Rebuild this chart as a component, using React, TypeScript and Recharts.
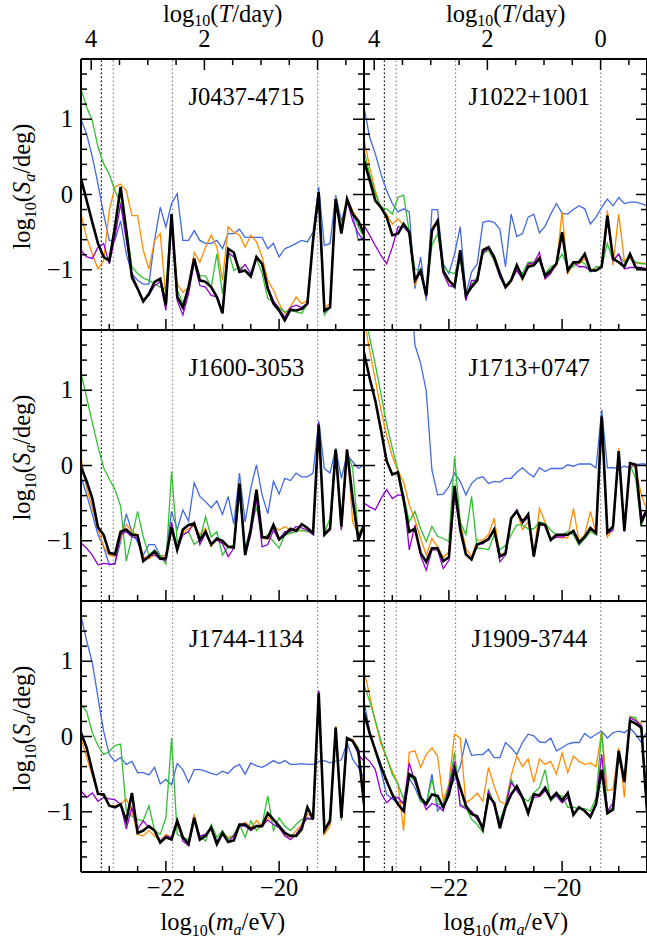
import React from "react";
import { LineChart, Line, XAxis, YAxis, ReferenceLine } from "recharts";

const FONT = "'Liberation Serif', 'Times New Roman', serif";

// log10(m_a / eV) at which every curve is sampled
const logMass = [
  -23.5, -23.4, -23.3, -23.2, -23.1, -23.0, -22.9, -22.8, -22.7, -22.6,
  -22.5, -22.4, -22.3, -22.2, -22.1, -22.0, -21.9, -21.8, -21.7, -21.6,
  -21.5, -21.4, -21.3, -21.2, -21.1, -21.0, -20.9, -20.8, -20.7, -20.6,
  -20.5, -20.4, -20.3, -20.2, -20.1, -20.0, -19.9, -19.8, -19.7, -19.6,
  -19.5, -19.4, -19.3, -19.2, -19.1, -19.0, -18.9, -18.8, -18.7, -18.6, -18.5,
];

// log10(S_a / deg), one array per pulsar and per curve
const j0437Black = [0.21, -0.08, -0.37, -0.65, -0.83, -0.88, -0.43, 0.10, -0.48, -1.10, -1.25, -1.42, -1.32, -1.16, -1.12, -1.47, -0.26, -1.36, -1.50, -1.23, -0.85, -1.14, -1.16, -1.23, -1.36, -1.58, -0.72, -0.77, -1.03, -1.01, -1.09, -0.83, -0.92, -1.25, -1.45, -1.54, -1.67, -1.53, -1.54, -1.52, -1.45, -0.61, 0.03, -1.54, -1.50, -0.06, -0.52, -0.06, -0.26, -0.35, -0.52];
const j0437Blue = [1.00, 0.80, 0.50, 0.14, -0.26, -0.61, -0.61, -0.35, -0.79, -1.05, -1.14, -1.19, -1.19, -0.61, -0.17, -0.43, -0.12, 0.01, -0.61, -0.61, -0.48, -0.61, -0.65, -0.65, -0.61, -0.72, -0.52, -0.52, -0.46, -0.57, -0.57, -0.57, -0.57, -0.72, -0.65, -0.83, -0.72, -0.69, -0.65, -0.61, -0.63, -0.50, 0.10, -0.68, -0.65, -0.01, -0.35, -0.08, -0.26, -0.61, -0.57];
const j0437Orange = [-0.26, -0.57, -0.79, -0.99, -0.88, -0.21, 0.10, 0.14, 0.05, -0.28, -0.28, -0.74, -0.99, -0.61, -0.52, -1.36, -0.40, -1.19, -1.30, -1.23, -0.77, -0.90, -0.70, -0.54, -0.70, -1.14, -0.43, -0.50, -0.54, -0.70, -0.54, -0.63, -0.83, -1.14, -1.27, -1.45, -1.58, -1.50, -1.36, -1.45, -1.41, -0.61, 0.00, -1.50, -1.45, -0.04, -0.43, -0.06, -0.21, -0.35, -0.57];
const j0437Green = [1.40, 1.16, 0.98, 0.63, 0.41, 0.27, 0.05, -0.12, -0.43, -0.96, -1.05, -1.11, -1.14, -1.19, -1.23, -1.25, -0.26, -1.27, -1.45, -1.23, -0.88, -1.08, -1.08, -1.23, -0.79, -1.32, -0.74, -1.01, -0.96, -1.03, -1.05, -0.85, -1.05, -1.38, -1.43, -1.50, -1.56, -1.54, -1.56, -1.58, -1.45, -0.57, -0.01, -1.60, -1.50, -0.04, -0.43, -0.08, -0.23, -0.43, -0.57];
const j0437Purple = [-0.74, -0.83, -0.85, -0.70, -0.65, -0.92, -0.57, -0.12, -0.61, -1.05, -1.25, -1.41, -1.34, -1.21, -1.16, -1.54, -0.35, -1.41, -1.60, -1.32, -0.90, -1.21, -1.23, -1.34, -1.36, -1.54, -0.77, -0.83, -1.01, -0.93, -1.05, -0.83, -0.93, -1.23, -1.41, -1.52, -1.63, -1.50, -1.47, -1.50, -1.45, -0.61, -0.01, -1.56, -1.50, -0.06, -0.48, -0.08, -0.35, -0.52, -0.61];

const j1022Black = [0.45, 0.19, -0.08, -0.17, -0.30, -0.54, -0.52, -0.39, -0.50, -1.14, -1.01, -1.34, -0.48, -0.35, -1.01, -1.14, -1.22, -0.74, -1.34, -1.23, -1.14, -0.74, -0.70, -0.83, -1.05, -1.23, -1.14, -0.94, -1.11, -0.96, -0.94, -0.85, -1.08, -1.01, -0.92, -0.50, -1.01, -0.90, -0.90, -0.79, -1.01, -1.01, -0.96, -0.28, -0.85, -0.90, -0.96, -0.79, -0.97, -0.99, -1.00];
const j1022Blue = [1.16, 0.76, 0.54, 0.27, 0.05, -0.12, -0.23, -0.19, -0.23, -1.25, -0.83, -1.41, -0.20, -0.20, -0.92, -1.05, -0.79, -0.43, -1.32, -1.03, -0.92, -0.37, -0.35, -0.37, -0.46, -0.96, -0.26, -0.56, -0.52, -0.30, -0.26, -0.51, -0.42, -0.26, -0.12, -0.25, -0.26, -0.20, -0.15, -0.19, -0.39, -0.30, -0.17, -0.06, -0.15, -0.04, -0.12, -0.10, -0.10, -0.12, -0.15];
const j1022Orange = [0.74, 0.36, 0.05, -0.19, -0.26, -0.39, -0.32, -0.41, -0.52, -1.21, -1.01, -1.35, -0.43, -0.37, -1.05, -1.16, -1.23, -0.79, -1.35, -1.21, -1.16, -0.79, -0.72, -0.88, -1.08, -1.25, -1.16, -0.96, -1.14, -0.94, -0.92, -0.83, -1.12, -1.03, -0.94, -0.23, -1.05, -0.92, -0.92, -0.85, -0.99, -1.00, -0.94, -0.21, -0.94, -0.26, -0.88, -0.85, -0.91, -0.91, -0.92];
const j1022Green = [0.58, 0.27, 0.01, -0.17, -0.19, -0.26, -0.04, -0.01, -0.50, -0.99, -1.01, -1.32, -0.68, -0.52, -0.96, -1.03, -1.05, -0.88, -1.32, -1.19, -1.10, -0.79, -0.74, -0.88, -1.08, -1.21, -1.12, -0.96, -1.05, -0.90, -0.90, -0.85, -1.05, -0.96, -0.92, -0.79, -0.96, -0.96, -0.88, -0.92, -1.03, -0.96, -0.96, -0.65, -0.88, -0.79, -0.90, -0.83, -0.90, -0.92, -0.92];
const j1022Purple = [-0.41, -0.54, -0.68, -0.81, -0.92, -0.70, -0.43, -0.43, -0.52, -1.16, -1.03, -1.36, -0.50, -0.35, -1.05, -1.21, -1.23, -0.79, -1.41, -1.14, -1.14, -0.77, -0.72, -0.85, -1.10, -1.23, -1.15, -1.01, -1.12, -0.92, -0.91, -0.77, -1.12, -1.05, -0.91, -0.52, -1.01, -0.90, -0.96, -0.96, -1.01, -1.01, -0.96, -0.28, -0.88, -0.79, -0.99, -0.97, -0.97, -0.97, -0.99];

const j1600Black = [-0.02, -0.21, -0.44, -0.82, -0.92, -1.16, -1.18, -0.88, -0.85, -0.92, -0.93, -1.27, -1.21, -1.14, -1.24, -1.23, -0.82, -1.12, -0.85, -0.79, -0.77, -0.99, -0.88, -1.05, -0.97, -1.00, -1.08, -1.09, -0.24, -1.19, -0.84, -0.32, -0.95, -0.96, -0.79, -0.98, -0.92, -0.84, -0.87, -0.78, -0.83, -0.90, 0.54, -0.92, -0.84, 0.21, -0.81, 0.21, -0.44, -0.99, -0.79];
const j1600Blue = [-0.15, -0.39, -0.65, -0.92, -1.08, -1.32, -1.30, -1.01, -0.64, -0.88, -1.02, -1.19, -1.05, -1.05, -1.20, -1.19, -0.61, -0.85, -0.59, -0.74, -0.23, -0.41, -0.48, -0.56, -0.47, -0.65, -0.41, -0.78, -0.10, -0.75, -0.30, 0.01, -0.39, -0.64, -0.21, -0.38, -0.17, -0.20, -0.10, -0.15, -0.15, -0.10, 0.59, -0.04, -0.10, 0.23, -0.17, 0.14, 0.05, -0.04, 0.01];
const j1600Orange = [0.10, -0.30, -0.57, -0.84, -1.08, -1.19, -1.21, -0.97, -0.78, -0.88, -0.92, -1.21, -1.24, -1.19, -1.21, -1.19, -0.80, -1.10, -0.89, -0.84, -0.80, -0.92, -0.83, -1.08, -0.97, -1.04, -1.07, -1.07, -0.21, -1.17, -0.86, -0.32, -0.97, -0.98, -0.80, -0.86, -0.81, -0.86, -0.84, -0.87, -0.84, -0.90, 0.54, -0.92, -0.83, 0.21, -0.84, 0.22, -0.75, -0.92, -0.77];
const j1600Green = [1.23, 0.90, 0.57, 0.25, -0.03, -0.18, -0.32, -0.54, -1.27, -0.95, -0.61, -0.95, -1.19, -1.12, -1.20, -1.31, -0.08, -1.02, -0.92, -0.88, -1.05, -0.99, -0.68, -0.95, -0.88, -1.19, -1.08, -1.06, -0.39, -1.10, -0.84, -0.55, -0.97, -0.92, -1.01, -1.10, -0.92, -0.90, -0.88, -0.86, -0.88, -0.88, 0.54, -0.90, -0.70, 0.23, -0.75, 0.19, -0.04, -0.92, -0.79];
const j1600Purple = [-1.03, -1.10, -1.19, -1.32, -1.30, -1.31, -1.31, -0.92, -0.88, -0.95, -0.97, -1.26, -1.19, -1.19, -1.24, -1.26, -0.75, -1.12, -0.92, -0.88, -0.75, -1.05, -0.90, -1.05, -0.99, -1.04, -1.21, -1.10, -0.30, -1.19, -0.92, -0.44, -1.08, -1.05, -0.86, -0.99, -0.88, -0.88, -0.81, -0.83, -0.86, -0.92, 0.56, -0.92, -0.86, 0.19, -0.86, 0.19, -0.50, -0.95, -0.80];

const j1713Black = [1.50, 1.16, 0.86, 0.47, 0.06, -0.12, -0.09, -0.46, -0.88, -0.84, -1.16, -1.28, -1.10, -1.10, -1.27, -1.22, -0.27, -0.85, -1.18, -1.25, -1.05, -1.02, -0.98, -0.85, -1.21, -1.17, -0.70, -0.61, -0.75, -0.65, -1.21, -0.77, -0.79, -0.99, -0.92, -0.92, -0.92, -0.87, -1.02, -0.95, -0.83, -0.90, 0.65, -0.89, -0.81, 0.19, -0.87, 0.03, 0.01, -0.75, -0.59];
const j1713Blue = [4.20, 4.00, 3.80, 3.60, 3.40, 3.20, 3.00, 2.80, 2.60, 1.60, 1.36, 0.99, -0.06, -0.39, -0.38, -0.28, -0.10, -0.21, -0.39, -0.24, -0.17, -0.15, -0.24, -0.21, -0.22, -0.17, -0.17, -0.09, -0.03, -0.10, -0.15, -0.03, -0.08, -0.04, -0.04, -0.04, 0.01, -0.01, 0.02, 0.02, 0.02, -0.03, 0.74, -0.03, -0.03, -0.04, -0.01, -0.03, 0.01, 0.02, 0.02];
const j1713Orange = [1.95, 1.53, 1.14, 0.74, 0.40, 0.12, -0.07, -0.22, -0.52, -0.72, -0.97, -1.19, -0.97, -1.08, -1.22, -1.15, -0.30, -0.75, -1.10, -1.21, -0.99, -0.99, -0.92, -0.70, -1.19, -1.15, -0.70, -0.61, -0.85, -0.75, -1.19, -0.57, -0.75, -0.97, -0.95, -0.96, -0.96, -0.57, -1.01, -0.92, -0.61, -0.90, 0.63, -0.95, -0.84, 0.23, -0.86, 0.03, -0.04, -0.39, -0.59];
const j1713Green = [2.10, 1.70, 1.34, 0.95, 0.55, 0.23, -0.06, -0.39, -0.75, -0.61, -0.84, -1.01, -0.81, -0.94, -0.97, -1.01, 0.12, -0.75, -0.92, -0.41, -1.10, -1.10, -1.12, -0.92, -1.12, -1.06, -0.92, -0.79, -0.79, -0.84, -0.84, -0.75, -0.77, -0.86, -0.92, -0.92, -0.88, -0.92, -1.06, -0.97, -0.88, -0.92, 0.65, -0.88, -0.84, 0.19, -0.88, 0.01, -0.17, -0.79, -0.61];
const j1713Purple = [-0.50, -0.55, -0.59, -0.44, -0.32, -0.44, -0.39, -0.40, -1.12, -0.79, -1.20, -1.39, -1.12, -1.12, -1.37, -1.26, -0.39, -0.84, -1.17, -1.24, -1.04, -1.04, -0.97, -0.84, -1.28, -1.19, -0.70, -0.59, -0.77, -0.68, -1.21, -0.79, -0.79, -0.99, -0.95, -0.95, -0.92, -0.88, -1.04, -0.95, -0.84, -0.90, 0.65, -0.90, -0.86, 0.19, -0.88, 0.03, -0.01, -0.70, -0.59];

const j1744Black = [0.05, -0.15, -0.46, -0.76, -0.77, -0.92, -0.94, -0.90, -1.12, -0.75, -1.28, -1.25, -1.19, -1.25, -1.41, -1.34, -1.37, -1.12, -1.34, -1.43, -1.08, -1.37, -1.32, -1.21, -1.43, -1.28, -1.40, -1.38, -1.17, -1.17, -1.23, -1.19, -1.19, -1.02, -1.10, -1.19, -1.28, -1.32, -1.32, -1.23, -0.94, -1.10, 0.58, -1.25, -1.12, 0.12, -1.08, -0.02, -0.06, -0.19, -0.90];
const j1744Blue = [1.60, 1.27, 0.98, 0.52, 0.07, -0.24, -0.33, -0.28, -0.37, -0.33, -0.48, -0.48, -0.51, -0.41, -0.63, -0.57, -0.64, -0.36, -0.44, -0.61, -0.44, -0.44, -0.46, -0.49, -0.51, -0.46, -0.49, -0.41, -0.37, -0.50, -0.35, -0.39, -0.41, -0.37, -0.32, -0.36, -0.32, -0.37, -0.37, -0.36, -0.37, -0.37, -0.33, -0.32, -0.35, -0.33, -0.31, -0.08, -0.30, -0.41, -0.55];
const j1744Orange = [-0.02, -0.28, -0.52, -0.75, -0.79, -0.92, -0.92, -0.90, -0.83, -0.99, -1.30, -1.32, -1.25, -1.32, -1.39, -1.30, -1.34, -1.17, -1.34, -1.41, -1.03, -1.34, -1.30, -1.23, -1.41, -1.28, -1.34, -1.32, -1.19, -1.14, -1.21, -1.12, -1.19, -1.08, -1.12, -1.19, -1.32, -1.34, -1.25, -1.17, -1.03, -1.08, 0.54, -1.30, -1.19, 0.14, -1.10, -0.02, -0.04, -0.15, -0.81];
const j1744Green = [0.43, 0.33, 0.05, -0.12, -0.24, -0.20, -0.12, -0.10, -0.99, -1.06, -1.10, -1.12, -0.92, -1.25, -1.30, -1.08, -0.02, -1.30, -1.34, -1.37, -1.12, -1.32, -1.39, -1.17, -1.34, -1.25, -1.37, -1.30, -1.17, -1.34, -1.12, -1.25, -1.17, -0.79, -1.25, -1.08, -1.19, -1.25, -1.17, -1.10, -1.10, -1.10, 0.58, -1.25, -1.08, 0.10, -1.12, -0.02, -0.06, -0.15, -0.94];
const j1744Purple = [-0.72, -0.81, -0.75, -0.86, -0.81, -0.83, -0.84, -0.90, -1.23, -0.94, -1.23, -1.12, -1.21, -1.25, -1.39, -1.32, -1.34, -1.12, -1.39, -1.45, -1.12, -1.32, -1.30, -1.21, -1.39, -1.30, -1.40, -1.32, -1.19, -1.19, -1.25, -1.19, -1.19, -1.11, -1.17, -1.21, -1.32, -1.37, -1.30, -1.19, -1.08, -1.10, 0.61, -1.25, -1.14, 0.12, -1.08, -0.02, -0.06, -0.24, -0.33];

const j1909Black = [0.32, 0.04, -0.18, -0.40, -0.59, -0.77, -0.90, -0.99, -0.50, -0.55, -0.81, -0.90, -0.77, -0.79, -0.94, -0.77, -0.44, -0.68, -0.92, -1.03, -1.06, -1.23, -0.79, -0.88, -1.22, -0.94, -0.77, -0.66, -0.81, -1.02, -0.77, -0.78, -0.68, -0.83, -0.75, -0.85, -0.75, -1.04, -0.94, -0.99, -1.07, -0.90, -0.44, -1.02, -0.97, -0.19, -0.60, 0.21, 0.17, 0.12, -0.99];
const j1909Blue = [0.47, 0.07, -0.20, -0.46, -0.77, -0.83, -0.88, -0.86, -0.55, -0.68, -0.86, -0.90, -0.50, -0.99, -0.90, -0.72, -0.57, -0.40, -0.04, -0.25, -0.24, -0.24, -0.17, -0.28, -0.28, -0.08, -0.15, -0.24, -0.08, 0.03, 0.01, -0.07, -0.08, -0.02, -0.19, -0.15, -0.10, -0.08, -0.08, 0.04, -0.02, 0.03, 0.07, -0.02, 0.05, 0.07, 0.05, 0.11, 0.03, -0.08, 0.07];
const j1909Orange = [0.87, 0.55, 0.20, -0.10, -0.28, -0.46, -0.63, -1.25, -0.21, -0.19, -0.41, -0.24, -0.15, -0.26, -0.86, -0.63, 0.03, -0.02, -0.88, -0.83, -0.75, -0.86, -0.41, -0.66, -0.86, -0.90, -0.52, -0.26, -0.40, -0.30, -0.61, -0.30, -0.37, -0.33, -0.50, -0.22, -0.48, -0.26, -0.33, -0.37, -0.35, -0.40, 0.07, -0.72, -0.70, -0.15, -0.81, 0.27, 0.22, 0.17, -0.99];
const j1909Green = [0.69, 0.47, 0.21, -0.06, -0.28, -0.50, -0.63, -0.83, -0.52, -0.59, -0.86, -0.90, -0.57, -0.90, -0.90, -0.66, -0.21, -0.90, -0.94, -1.10, -1.17, -1.27, -0.70, -0.90, -1.12, -0.90, -0.57, -0.72, -0.81, -0.86, -0.75, -0.68, -0.44, -0.86, -0.77, -0.79, -0.94, -0.94, -0.96, -0.96, -0.99, -0.81, 0.07, -0.99, -0.94, -0.26, -0.61, 0.26, 0.25, 0.07, -0.99];
const j1909Purple = [-0.26, -0.33, -0.44, -0.75, -0.88, -0.81, -0.81, -0.90, -0.35, -0.61, -0.79, -0.97, -0.89, -0.92, -0.99, -0.68, -0.33, -0.92, -0.96, -0.99, -1.10, -1.22, -0.74, -0.92, -1.16, -0.94, -0.61, -0.72, -0.83, -0.99, -0.81, -0.80, -0.72, -0.83, -0.79, -0.88, -0.81, -1.03, -0.94, -0.99, -1.05, -0.88, -0.24, -0.99, -0.88, -0.24, -0.61, 0.25, 0.21, 0.14, -1.03];

const pulsars = ["J0437-4715", "J1022+1001", "J1600-3053", "J1713+0747", "J1744-1134", "J1909-3744"];
const curves = [
  [j0437Blue, j0437Orange, j0437Green, j0437Purple, j0437Black],
  [j1022Blue, j1022Orange, j1022Green, j1022Purple, j1022Black],
  [j1600Blue, j1600Orange, j1600Green, j1600Purple, j1600Black],
  [j1713Blue, j1713Orange, j1713Green, j1713Purple, j1713Black],
  [j1744Blue, j1744Orange, j1744Green, j1744Purple, j1744Black],
  [j1909Blue, j1909Orange, j1909Green, j1909Purple, j1909Black],
];
const seriesKeys = ["blue", "orange", "green", "purple", "black"];
const seriesColors = ["#4169e1", "#ff8c00", "#32c032", "#9400d3", "#000000"];
const seriesWidths = [1.3, 1.3, 1.3, 1.3, 2.6];

// log10(T/day) = LOG_H - log10(m_a/eV)
const LOG_H = -19.32;
const periodTicks = [4, 3.5, 3, 2.5, 2, 1.5, 1, 0.5, 0, -0.5];
const massTicks = [-23, -22.5, -22, -21.5, -21, -20.5, -20, -19.5, -19];
const ampTicks = [-1.6, -1.4, -1.2, -1, -0.8, -0.6, -0.4, -0.2, 0, 0.2, 0.4, 0.6, 0.8, 1, 1.2, 1.4, 1.6];
// vertical dotted markers, in log10(T/day)
const markerPeriods = [3.82, 3.61, 2.5626, 0];

const COL_X = [81.3, 364.3];
const ROW_Y = [59, 330, 601];
const PW = 283;
const PH = 271;
const AX = 1; // axis thickness used by recharts layout (must be > 0)
const M = { top: 49, right: 11, bottom: 33, left: 59 };
const FS = 24.5;
const SUB = 16;

const num = (v: number) => (v < 0 ? "\u2212" + Math.abs(v) : String(v));
const isInt = (v: number) => Math.abs(v - Math.round(v)) < 1e-6;
const isEven = (v: number) => isInt(v) && Math.round(v) % 2 === 0;

type Side = "bottom" | "top" | "left" | "right";

const makeTick = (side: Side, labels: boolean, major: (v: number) => boolean, text: (v: number) => string) =>
  (p: any) => {
    const { x, y, payload } = p;
    const v = payload.value;
    const big = major(v);
    const len = big ? 11 : 6;
    const dx = side === "left" ? len : side === "right" ? -len : 0;
    const dy = side === "bottom" ? -len : side === "top" ? len : 0;
    let lx = x;
    let ly = y;
    let anchor: "middle" | "end" = "middle";
    if (side === "bottom") ly = y + 24;
    if (side === "top") ly = y - 12;
    if (side === "left") {
      lx = x - 8;
      ly = y + 8;
      anchor = "end";
    }
    return (
      <g>
        <line x1={x} y1={y} x2={x + dx} y2={y + dy} stroke="#000" strokeWidth={1.5} />
        {labels && big && (
          <text x={lx} y={ly} textAnchor={anchor} fontFamily={FONT} fontSize={FS} fill="#000">
            {text(v)}
          </text>
        )}
      </g>
    );
  };

const frame = { stroke: "#000", strokeWidth: 2 };

function Panel({ idx }: { idx: number }) {
  const row = Math.floor(idx / 2);
  const col = idx % 2;
  const data = logMass.map((m, i) => {
    const d: Record<string, number> = { m };
    seriesKeys.forEach((k, s) => (d[k] = curves[idx][s][i]));
    return d;
  });
  const topRow = row === 0;
  const bottomRow = row === 2;
  return (
    <div style={{ position: "absolute", left: COL_X[col] - M.left - AX, top: ROW_Y[row] - M.top - AX }}>
      <LineChart width={PW + M.left + M.right + 2 * AX} height={PH + M.top + M.bottom + 2 * AX} data={data} margin={M}>
        <XAxis
          dataKey="m"
          type="number"
          domain={[-23.5, -18.5]}
          allowDataOverflow
          ticks={massTicks}
          interval={0}
          height={AX}
          tickSize={0}
          tickMargin={0}
          tickLine={false}
          axisLine={frame}
          tick={makeTick("bottom", bottomRow, isEven, num)}
        />
        <XAxis
          xAxisId="top"
          orientation="top"
          dataKey="m"
          type="number"
          domain={[-23.5, -18.5]}
          allowDataOverflow
          ticks={topRow ? periodTicks.map((t) => LOG_H - t) : []}
          interval={0}
          height={AX}
          tickSize={0}
          tickMargin={0}
          tickLine={false}
          axisLine={frame}
          tick={makeTick("top", true, (v) => isEven(LOG_H - v), (v) => num(Math.round((LOG_H - v) * 10) / 10))}
        />
        <YAxis
          type="number"
          domain={[-1.8, 1.8]}
          allowDataOverflow
          ticks={ampTicks}
          interval={0}
          width={AX}
          tickSize={0}
          tickMargin={0}
          tickLine={false}
          axisLine={frame}
          tick={makeTick("left", col === 0, isInt, num)}
        />
        <YAxis
          yAxisId="right"
          orientation="right"
          type="number"
          domain={[-1.8, 1.8]}
          allowDataOverflow
          ticks={ampTicks}
          interval={0}
          width={AX}
          tickSize={0}
          tickMargin={0}
          tickLine={false}
          axisLine={frame}
          tick={makeTick("right", false, isInt, num)}
        />
        {markerPeriods.map((t, i) => (
          <ReferenceLine
            key={t}
            x={LOG_H - t}
            stroke={i === 0 ? "#000" : "#888"}
            strokeWidth={1.2}
            strokeDasharray="1.5 2.5"
          />
        ))}
        {seriesKeys.map((k, s) => (
          <Line
            key={k}
            dataKey={k}
            stroke={seriesColors[s]}
            strokeWidth={seriesWidths[s]}
            dot={false}
            activeDot={false}
            isAnimationActive={false}
          />
        ))}
      </LineChart>
    </div>
  );
}

function Title({ x, y, v, sub, unit, rotate, subDrop = 6 }: { x: number; y: number; v: string; sub?: string; unit: string; rotate?: boolean; subDrop?: number }) {
  return (
    <text
      x={x}
      y={y}
      textAnchor="middle"
      fontFamily={FONT}
      fontSize={FS}
      fill="#000"
      transform={rotate ? `rotate(-90 ${x} ${y})` : undefined}
    >
      log<tspan fontSize={SUB} dy={subDrop}>10</tspan>
      <tspan dy={-subDrop}>(</tspan>
      <tspan fontStyle="italic">{v}</tspan>
      {sub ? <tspan fontStyle="italic" fontSize={SUB} dy={5}>{sub}</tspan> : null}
      <tspan dy={sub ? -5 : 0}>/{unit})</tspan>
    </text>
  );
}

export default function App() {
  return (
    <div style={{ position: "absolute", left: 0, top: 0, width: 647, height: 941, overflow: "hidden", background: "#fff" }}>
      {pulsars.map((_, i) => (
        <Panel key={i} idx={i} />
      ))}
      <svg width={647} height={941} style={{ position: "absolute", left: 0, top: 0, pointerEvents: "none" }}>
        {COL_X.map((cx) => (
          <g key={cx}>
            <Title x={cx + PW / 2} y={22} v="T" unit="day" subDrop={4} />
            <Title x={cx + PW / 2} y={930} v="m" sub="a" unit="eV" />
          </g>
        ))}
        {ROW_Y.map((ry) => (
          <Title key={ry} x={30} y={ry + PH / 2 - 8} v="S" sub="a" unit="deg" rotate />
        ))}
        {pulsars.map((name, i) => (
          <text
            key={name}
            x={COL_X[i % 2] + 165}
            y={ROW_Y[Math.floor(i / 2)] + 46}
            textAnchor="middle"
            fontFamily={FONT}
            fontSize={FS}
            fill="#000"
          >
            {name}
          </text>
        ))}
      </svg>
    </div>
  );
}
